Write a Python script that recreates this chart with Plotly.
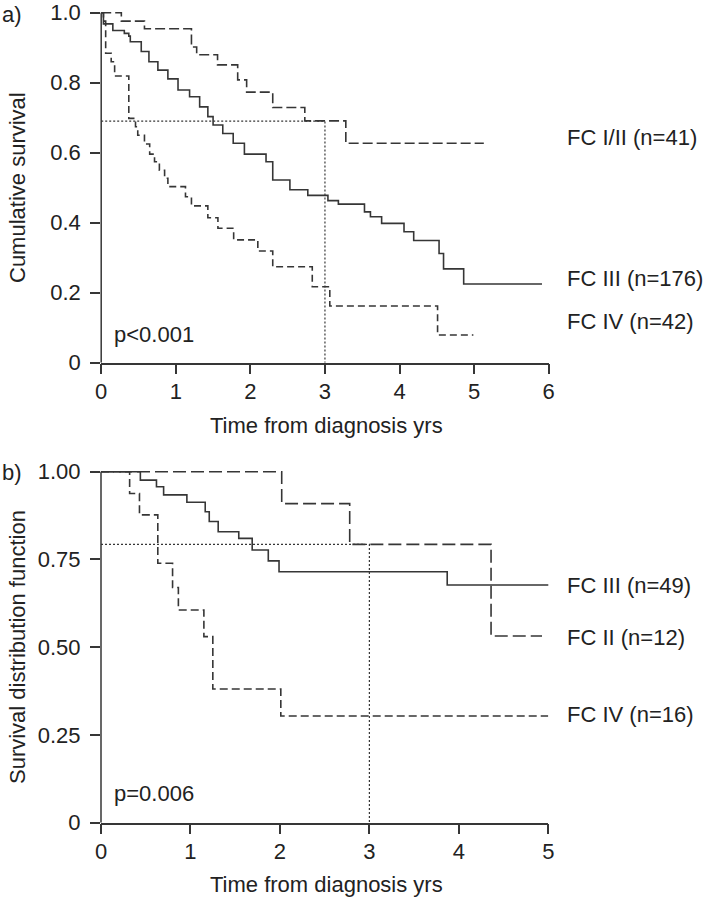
import plotly.graph_objects as go

# ---------------- data ----------------
a_fc12_t = [0, 0.27, 0.58, 1.21, 1.28, 1.56, 1.83, 1.95, 2.30, 2.73, 3.28, 5.13]
a_fc12_s = [1.0, 0.976, 0.954, 0.902, 0.880, 0.851, 0.808, 0.773, 0.729, 0.691, 0.627, 0.627]

a_fc3_t = [0, 0.03, 0.156, 0.31, 0.37, 0.39, 0.537, 0.64, 0.76, 0.894, 1.03, 1.185, 1.32,
           1.43, 1.50, 1.63, 1.77, 1.92, 2.21, 2.30, 2.53, 2.77, 3.04, 3.18, 3.53, 3.61,
           3.76, 4.06, 4.19, 4.53, 4.59, 4.86, 5.91]
a_fc3_s = [1.0, 0.968, 0.949, 0.941, 0.933, 0.917, 0.889, 0.860, 0.836, 0.811, 0.779, 0.760, 0.731,
           0.703, 0.679, 0.655, 0.627, 0.596, 0.574, 0.522, 0.494, 0.478, 0.463, 0.453, 0.431, 0.417,
           0.398, 0.374, 0.349, 0.312, 0.268, 0.225, 0.225]

a_fc4_t = [0, 0.03, 0.06, 0.134, 0.18, 0.37, 0.46, 0.49, 0.58, 0.65, 0.715, 0.78, 0.85, 0.894,
           1.13, 1.21, 1.43, 1.565, 1.776, 2.10, 2.30, 2.83, 3.065, 4.51, 4.99]
a_fc4_s = [1.0, 0.976, 0.884, 0.860, 0.819, 0.698, 0.674, 0.650, 0.625, 0.596, 0.574, 0.550, 0.527, 0.503,
           0.474, 0.448, 0.414, 0.384, 0.351, 0.319, 0.274, 0.217, 0.162, 0.079, 0.079]

a_ref_t = [0, 3, 3]
a_ref_s = [0.69, 0.69, 0]

a_labels = ["FC I/II (n=41)", "FC III (n=176)", "FC IV (n=42)"]
a_xticks = [0, 1, 2, 3, 4, 5, 6]
a_yticks = [0, 0.2, 0.4, 0.6, 0.8, 1.0]
a_yticktext = ["0", "0.2", "0.4", "0.6", "0.8", "1.0"]

b_fc2_t = [0, 2.02, 2.78, 4.36, 4.93]
b_fc2_s = [1.0, 0.909, 0.793, 0.532, 0.532]

b_fc3_t = [0, 0.44, 0.62, 0.70, 0.96, 1.165, 1.21, 1.31, 1.54, 1.69, 1.87, 1.99, 3.87, 5.02]
b_fc3_s = [1.0, 0.976, 0.957, 0.934, 0.913, 0.886, 0.858, 0.829, 0.810, 0.777, 0.746, 0.715, 0.677, 0.677]

b_fc4_t = [0, 0.32, 0.43, 0.635, 0.80, 0.865, 1.15, 1.25, 2.01, 5.0]
b_fc4_s = [1.0, 0.938, 0.877, 0.739, 0.670, 0.606, 0.530, 0.381, 0.304, 0.304]

b_ref_t = [0, 3, 3]
b_ref_s = [0.793, 0.793, 0]

b_labels = ["FC III (n=49)", "FC II (n=12)", "FC IV (n=16)"]
b_xticks = [0, 1, 2, 3, 4, 5]
b_yticks = [0, 0.25, 0.5, 0.75, 1.0]
b_yticktext = ["0", "0.25", "0.50", "0.75", "1.00"]

# ---------------- layout helpers ----------------
W, H = 708, 899
FONT = "Liberation Sans, Arial, Helvetica, sans-serif"
FS = 22
LC = "#363636"
TC = "#222222"


def px(xp):
    return xp / W


def py(yp):
    return 1 - yp / H


fig = go.Figure()


def add_curve(t, s, dash, xa, ya, width=1.6):
    fig.add_trace(go.Scatter(x=t, y=s, mode="lines", xaxis=xa, yaxis=ya,
                             line=dict(shape="hv", color=LC, width=width, dash=dash),
                             hoverinfo="skip", showlegend=False))


add_curve(a_fc12_t, a_fc12_s, "10px,4px", "x", "y")
add_curve(a_fc3_t, a_fc3_s, "solid", "x", "y")
add_curve(a_fc4_t, a_fc4_s, "7px,4px", "x", "y")
add_curve(a_ref_t, a_ref_s, "2px,2px", "x", "y", width=1.2)

add_curve(b_fc2_t, b_fc2_s, "13px,5px", "x2", "y2")
add_curve(b_fc3_t, b_fc3_s, "solid", "x2", "y2")
add_curve(b_fc4_t, b_fc4_s, "8px,4px", "x2", "y2")
add_curve(b_ref_t, b_ref_s, "2px,2px", "x2", "y2", width=1.2)

# panel geometry in page pixels
A_X0, A_X1 = 101.2, 548.7      # t = 0 .. 6
A_Y0, A_PPU = 362.7, 350.0     # S = 0 position, pixels per unit
B_X0, B_X1 = 101.0, 548.3      # t = 0 .. 5
B_Y0, B_PPU = 822.7, 351.0
YTOP = 1.006

common_axis = dict(showgrid=False, zeroline=False, ticks="outside", ticklen=10, tickwidth=1.5,
                   tickcolor=LC, linecolor=LC, linewidth=1.5, automargin=False,
                   ticklabeloverflow="allow",
                   tickfont=dict(family=FONT, size=FS, color=TC), fixedrange=True)

fig.update_layout(
    template="none",
    width=W, height=H, margin=dict(l=0, r=0, t=0, b=0, pad=0, autoexpand=False),
    paper_bgcolor="white", plot_bgcolor="white",
    xaxis=dict(domain=[px(A_X0), px(A_X1)], range=[0, 6], anchor="y", showline=True,
               tickvals=a_xticks, ticklabelstandoff=-2, **common_axis),
    yaxis=dict(domain=[py(A_Y0), py(A_Y0 - A_PPU * YTOP)], range=[0, YTOP], anchor="x",
               showline=False, tickvals=a_yticks, ticktext=a_yticktext,
               ticklabelstandoff=5, **common_axis),
    xaxis2=dict(domain=[px(B_X0), px(B_X1)], range=[0, 5], anchor="y2", showline=True,
                tickvals=b_xticks, ticklabelstandoff=-2, **common_axis),
    yaxis2=dict(domain=[py(B_Y0), py(B_Y0 - B_PPU * YTOP)], range=[0, YTOP], anchor="x2",
                showline=False, tickvals=b_yticks, ticktext=b_yticktext,
                ticklabelstandoff=5, **common_axis),
)

# y-axis lines ending at the 1.0 tick
fig.add_shape(type="line", xref="paper", yref="y", x0=px(A_X0), x1=px(A_X0), y0=0, y1=1,
              line=dict(color=LC, width=1.5))
fig.add_shape(type="line", xref="paper", yref="y2", x0=px(B_X0), x1=px(B_X0), y0=0, y1=1,
              line=dict(color=LC, width=1.5))


def ann(text, xp, yp, xanchor="left", angle=0):
    fig.add_annotation(text=text, x=px(xp), y=py(yp), xref="paper", yref="paper",
                       xanchor=xanchor, yanchor="middle", showarrow=False, textangle=angle,
                       font=dict(family=FONT, size=FS, color=TC))


ann("a)", 0, 15)
ann("b)", 0, 472)
ann("Cumulative survival", 17, 188, xanchor="center", angle=-90)
ann("Survival distribution function", 17, 647, xanchor="center", angle=-90)
ann("Time from diagnosis yrs", 326, 425, xanchor="center")
ann("Time from diagnosis yrs", 326, 884, xanchor="center")
ann("p<0.001", 112, 334)
ann("p=0.006", 112, 793)
for lab, yp in zip(a_labels, [137, 279, 322]):
    ann(lab, 565, yp)
for lab, yp in zip(b_labels, [585, 637, 714]):
    ann(lab, 565, yp)

fig.write_html("out.html", config={"displayModeBar": False},
               post_script="document.body.style.margin='0';")
